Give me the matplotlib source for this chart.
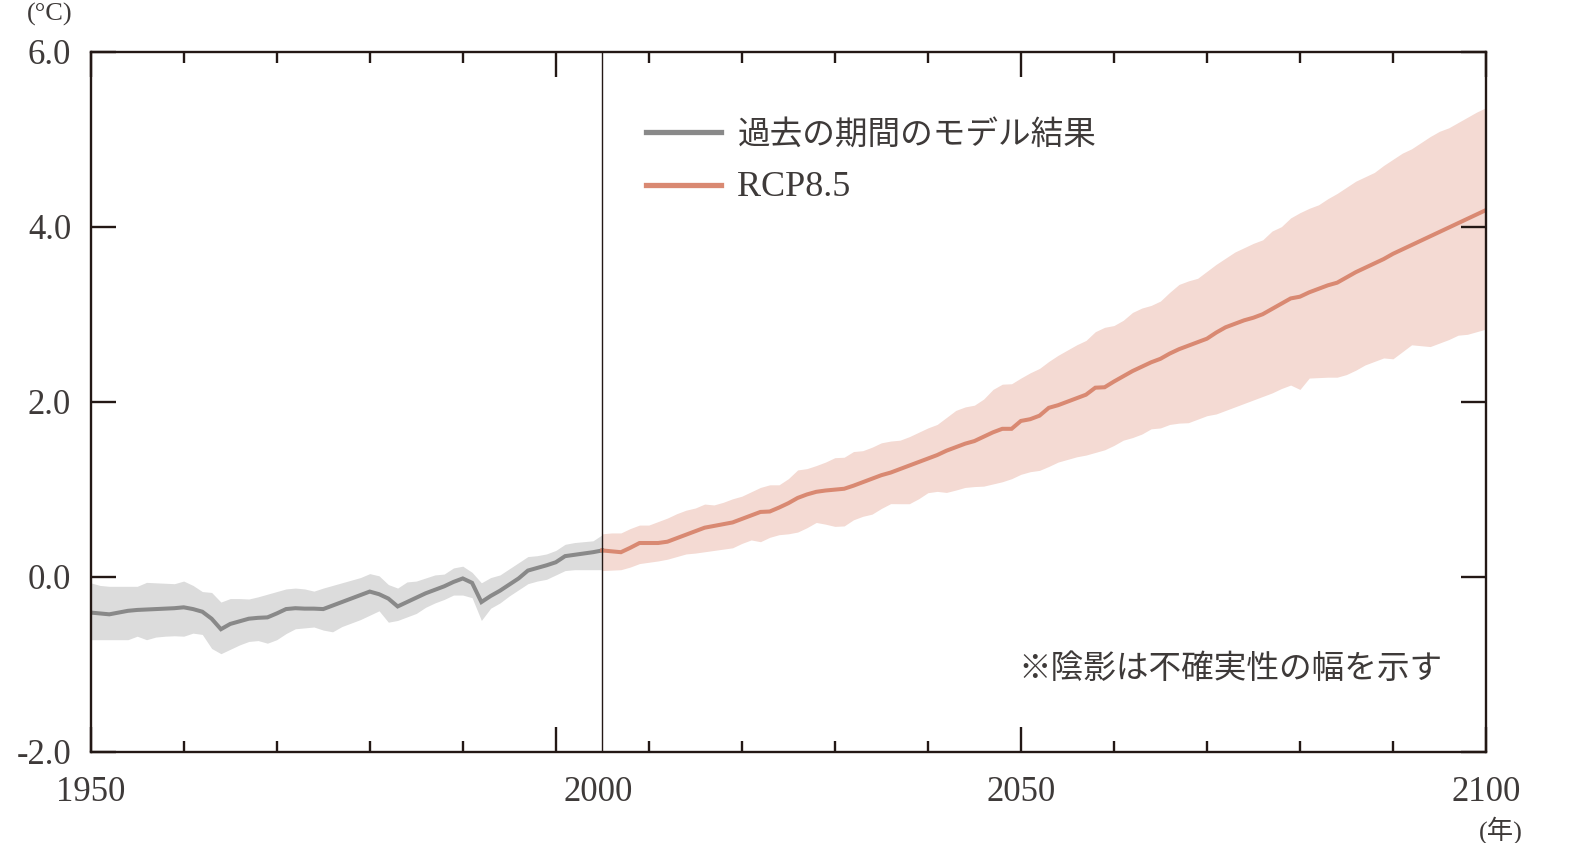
import matplotlib
matplotlib.use("Agg")
import matplotlib.pyplot as plt
import matplotlib.transforms as mtrans
from matplotlib.lines import Line2D
from matplotlib.ticker import MultipleLocator
import numpy as np

plt.rcParams['font.family'] = ['Liberation Serif', 'Noto Sans CJK JP', 'DejaVu Sans']

# historical model run 1950-2005 (deg C)
hist_years = np.arange(1950, 2006)
hist_mean = [-0.41, -0.42, -0.43, -0.41, -0.39, -0.38, -0.375, -0.37, -0.365, -0.36,
             -0.35, -0.37, -0.40, -0.48, -0.60, -0.54, -0.51, -0.48, -0.47, -0.465,
             -0.42, -0.37, -0.36, -0.365, -0.365, -0.37, -0.33, -0.29, -0.25, -0.21,
             -0.17, -0.20, -0.25, -0.34, -0.29, -0.24, -0.19, -0.15, -0.11, -0.06,
             -0.02, -0.07, -0.29, -0.22, -0.16, -0.09, -0.02, 0.07, 0.10, 0.13,
             0.165, 0.235, 0.25, 0.265, 0.28, 0.30]
hist_hi = [-0.07, -0.10, -0.11, -0.11, -0.11, -0.11, -0.065, -0.07, -0.075, -0.08,
           -0.05, -0.10, -0.17, -0.18, -0.29, -0.25, -0.25, -0.255, -0.23, -0.20,
           -0.17, -0.14, -0.13, -0.14, -0.165, -0.13, -0.10, -0.07, -0.04, -0.01,
           0.035, 0.01, -0.09, -0.13, -0.06, -0.05, -0.015, 0.02, 0.03, 0.10,
           0.12, 0.05, -0.07, -0.01, 0.02, 0.09, 0.16, 0.23, 0.24, 0.26,
           0.30, 0.37, 0.39, 0.40, 0.41, 0.48]
hist_lo = [-0.72, -0.72, -0.72, -0.72, -0.72, -0.68, -0.72, -0.69, -0.68, -0.675,
           -0.68, -0.645, -0.66, -0.82, -0.88, -0.83, -0.78, -0.74, -0.73, -0.76,
           -0.72, -0.65, -0.595, -0.585, -0.575, -0.61, -0.63, -0.57, -0.53, -0.49,
           -0.44, -0.39, -0.52, -0.50, -0.46, -0.42, -0.35, -0.30, -0.26, -0.21,
           -0.21, -0.24, -0.50, -0.36, -0.30, -0.22, -0.15, -0.08, -0.05, -0.03,
           0.02, 0.07, 0.08, 0.08, 0.08, 0.08]

# RCP8.5 2005-2100
rcp_years = np.arange(2005, 2101)
rcp_mean = [0.30, 0.29, 0.28, 0.33, 0.385, 0.385, 0.385, 0.40, 0.44, 0.48,
            0.52, 0.56, 0.58, 0.60, 0.62, 0.66, 0.70, 0.74, 0.745, 0.79,
            0.84, 0.90, 0.94, 0.97, 0.985, 0.995, 1.005, 1.04, 1.08, 1.12,
            1.16, 1.19, 1.23, 1.27, 1.31, 1.35, 1.39, 1.44, 1.48, 1.52,
            1.55, 1.60, 1.65, 1.69, 1.69, 1.78, 1.80, 1.84, 1.93, 1.96,
            2.00, 2.04, 2.08, 2.16, 2.165, 2.23, 2.29, 2.35, 2.40, 2.45,
            2.49, 2.55, 2.60, 2.64, 2.68, 2.72, 2.79, 2.85, 2.89, 2.93,
            2.96, 3.00, 3.06, 3.12, 3.18, 3.20, 3.25, 3.29, 3.33, 3.36,
            3.42, 3.48, 3.53, 3.58, 3.63, 3.69, 3.74, 3.79, 3.84, 3.89,
            3.94, 3.99, 4.04, 4.09, 4.14, 4.19]
rcp_hi = [0.49, 0.50, 0.50, 0.55, 0.59, 0.59, 0.63, 0.67, 0.72, 0.76,
          0.785, 0.83, 0.82, 0.85, 0.89, 0.92, 0.97, 1.02, 1.05, 1.05,
          1.12, 1.22, 1.235, 1.27, 1.31, 1.36, 1.365, 1.43, 1.44, 1.48,
          1.53, 1.55, 1.56, 1.60, 1.65, 1.70, 1.74, 1.82, 1.90, 1.94,
          1.96, 2.03, 2.14, 2.20, 2.205, 2.27, 2.33, 2.38, 2.46, 2.53,
          2.59, 2.65, 2.70, 2.80, 2.85, 2.87, 2.93, 3.02, 3.07, 3.10,
          3.15, 3.25, 3.34, 3.38, 3.41, 3.49, 3.57, 3.64, 3.71, 3.76,
          3.81, 3.85, 3.95, 4.00, 4.10, 4.16, 4.21, 4.25, 4.32, 4.38,
          4.45, 4.52, 4.57, 4.62, 4.70, 4.77, 4.84, 4.89, 4.96, 5.03,
          5.09, 5.13, 5.19, 5.25, 5.31, 5.36]
rcp_lo = [0.07, 0.075, 0.08, 0.11, 0.15, 0.165, 0.18, 0.20, 0.23, 0.26,
          0.27, 0.285, 0.30, 0.315, 0.33, 0.38, 0.42, 0.40, 0.45, 0.48,
          0.49, 0.51, 0.56, 0.62, 0.60, 0.575, 0.58, 0.65, 0.69, 0.715,
          0.78, 0.835, 0.834, 0.834, 0.89, 0.96, 0.975, 0.963, 0.99, 1.02,
          1.03, 1.035, 1.06, 1.085, 1.12, 1.17, 1.20, 1.215, 1.26, 1.31,
          1.34, 1.37, 1.39, 1.42, 1.45, 1.50, 1.56, 1.59, 1.63, 1.69,
          1.70, 1.74, 1.755, 1.76, 1.80, 1.84, 1.86, 1.90, 1.94, 1.98,
          2.02, 2.06, 2.10, 2.15, 2.19, 2.14, 2.27, 2.275, 2.28, 2.28,
          2.31, 2.36, 2.42, 2.46, 2.50, 2.49, 2.57, 2.65, 2.64, 2.63,
          2.67, 2.71, 2.76, 2.77, 2.80, 2.83]

hist_end = 2005
y_ticks = [-2, 0, 2, 4, 6]
y_labels = ['-2.0', '0.0', '2.0', '4.0', '6.0']
x_ticks = [1950, 2000, 2050, 2100]
x_labels = ['1950', '', '2050', '2100']
labels = ['過去の期間のモデル結果', 'RCP8.5']

gray, gray_band = '#898989', '#dcdcdc'
red, red_band = '#d98972', '#f4dad3'
ink = '#231815'
txt = '#3e3a39'

fig = plt.figure(figsize=(15.8, 8.43), dpi=100)
ax = fig.add_axes([0.0574, 0.1083, 0.8831, 0.8304])

ax.fill_between(hist_years, hist_lo, hist_hi, color=gray_band, lw=0)
ax.fill_between(rcp_years, rcp_lo, rcp_hi, color=red_band, lw=0)
ax.plot(hist_years, hist_mean, color=gray, lw=2.9, solid_joinstyle='miter')
ax.plot(rcp_years, rcp_mean, color=red, lw=2.9, solid_joinstyle='miter')
ax.axvline(hist_end, color=ink, lw=1.0)

ax.set_xlim(1950, 2100)
ax.set_ylim(-2, 6)
ax.set_xticks(x_ticks)
ax.set_xticklabels(x_labels)
ax.xaxis.set_minor_locator(MultipleLocator(10))
ax.set_yticks(y_ticks)
ax.set_yticklabels(y_labels)

for s in ax.spines.values():
    s.set_color(ink)
    s.set_linewidth(1.7)
ax.tick_params(which='both', direction='in', top=True, right=True,
               color=ink, width=1.7, labelsize=25, labelcolor=txt, pad=14)
ax.tick_params(axis='x', pad=17.5)
ax.tick_params(which='major', length=18)
ax.tick_params(which='minor', length=8)

# "2000" label sits under the end of the historical run
off = mtrans.offset_copy(ax.get_xaxis_transform(), fig=fig, x=0, y=-17.5, units='points')
ax.text(2004.6, 0, '2000', transform=off, ha='center', va='top',
        fontsize=25, color=txt)

fig.text(0.0316, 0.983, '(°C)', ha='center', va='center', fontsize=19, color=txt)
fig.text(0.950, 0.0155, '(年)', ha='center', va='center', fontsize=19, color=txt)

handles = [Line2D([], [], color=gray, lw=3.8), Line2D([], [], color=red, lw=3.8)]
leg = ax.legend(handles, labels, loc='center left', bbox_to_anchor=(0.398, 0.8425),
                frameon=False, borderpad=0, borderaxespad=0, handlelength=2.31,
                handletextpad=0.49, labelspacing=0.65, fontsize=23.5,
                labelcolor=txt)
leg.get_texts()[1].set_fontsize(26)

ax.text(0.969, 0.1167, '※陰影は不確実性の幅を示す', transform=ax.transAxes,
        ha='right', va='center', fontsize=23.5, color=txt)

fig.savefig('out.png', dpi=100)
